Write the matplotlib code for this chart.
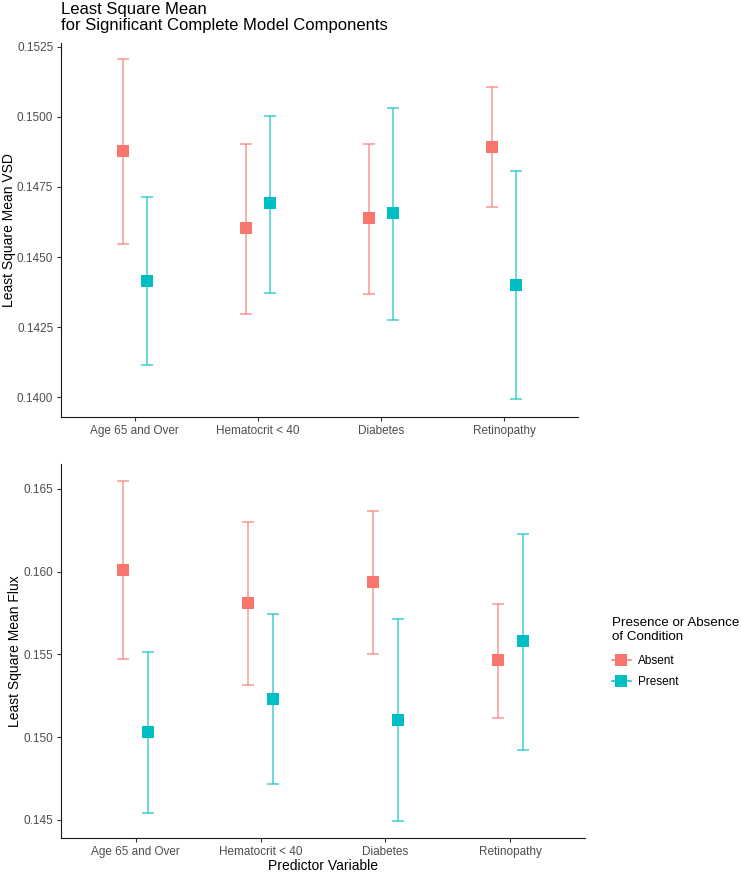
import matplotlib
matplotlib.use("Agg")
import matplotlib.pyplot as plt
from matplotlib.lines import Line2D
import numpy as np

plt.rcParams['font.family'] = ['Liberation Sans', 'DejaVu Sans']

# -------------------------------
# Data
# -------------------------------
categories = ["Age 65 and Over", "Hematocrit < 40", "Diabetes", "Retinopathy"]

# top panel: least square mean VSD
vsd_absent = [0.14880, 0.14602, 0.14639, 0.14893]
vsd_absent_lo = [0.14546, 0.14296, 0.14368, 0.14680]
vsd_absent_hi = [0.15207, 0.14905, 0.14905, 0.15106]
vsd_present = [0.14415, 0.14693, 0.14657, 0.14400]
vsd_present_lo = [0.14113, 0.14371, 0.14276, 0.13992]
vsd_present_hi = [0.14715, 0.15004, 0.15032, 0.14808]

# bottom panel: least square mean flux
flux_absent = [0.16010, 0.15811, 0.15935, 0.15468]
flux_absent_lo = [0.15474, 0.15315, 0.15505, 0.15116]
flux_absent_hi = [0.16546, 0.16300, 0.16369, 0.15807]
flux_present = [0.15029, 0.15231, 0.15106, 0.15579]
flux_present_lo = [0.14540, 0.14719, 0.14491, 0.14924]
flux_present_hi = [0.15515, 0.15746, 0.15716, 0.16225]

vsd_ticks = [0.1400, 0.1425, 0.1450, 0.1475, 0.1500, 0.1525]
flux_ticks = [0.145, 0.150, 0.155, 0.160, 0.165]

ABSENT_COL = "#F8766D"
PRESENT_COL = "#00BFC4"
TICK_COL = "#4D4D4D"
DODGE = 0.1


def draw_panel(ax, groups, yticks, fmt, ylabel, ylim, label_x):
    x = np.arange(len(categories))
    for offset, (mean, lo, hi, col) in zip((-DODGE, DODGE), groups):
        mean = np.array(mean)
        err = [mean - np.array(lo), np.array(hi) - mean]
        ax.errorbar(x + offset, mean, yerr=err, fmt='none', ecolor=col,
                    alpha=0.75, elinewidth=1.1, capsize=4.3, capthick=1.1,
                    zorder=2)
        ax.plot(x + offset, mean, linestyle='none', marker='s',
                markersize=8.8, color=col, markeredgewidth=0, zorder=3)

    ax.set_xlim(-0.6, len(categories) - 0.4)
    ax.set_ylim(*ylim)
    ax.set_xticks(x)
    ax.set_xticklabels(categories)
    ax.set_yticks(yticks)
    ax.set_yticklabels([fmt % t for t in yticks])
    ax.set_ylabel(ylabel, fontsize=10, color="black", va='center')
    ax.yaxis.set_label_coords(label_x, 0.5)
    for side in ("top", "right"):
        ax.spines[side].set_visible(False)
    for side in ("left", "bottom"):
        ax.spines[side].set_color("#1a1a1a")
        ax.spines[side].set_linewidth(0.8)
    ax.tick_params(axis='both', labelsize=8.5, labelcolor=TICK_COL,
                   color="#333333", length=3, width=0.8, pad=2.5)


fig = plt.figure(figsize=(7.41, 8.74), dpi=100)
W, H = 741.0, 874.0

ax_top = fig.add_axes([61 / W, 1 - 417 / H, 517 / W, 374 / H])
draw_panel(ax_top,
           [(vsd_absent, vsd_absent_lo, vsd_absent_hi, ABSENT_COL),
            (vsd_present, vsd_present_lo, vsd_present_hi, PRESENT_COL)],
           vsd_ticks, "%.4f", "Least Square Mean VSD", (0.13929, 0.15264),
           (9 - 61) / 517)

ax_bot = fig.add_axes([61 / W, 1 - 838 / H, 524 / W, 374 / H])
draw_panel(ax_bot,
           [(flux_absent, flux_absent_lo, flux_absent_hi, ABSENT_COL),
            (flux_present, flux_present_lo, flux_present_hi, PRESENT_COL)],
           flux_ticks, "%.3f", "Least Square Mean Flux", (0.14391, 0.16651),
           (15 - 61) / 524)
ax_bot.set_xlabel("Predictor Variable", fontsize=10, color="black", va='center')
ax_bot.xaxis.set_label_coords(0.5, -(866 - 838) / 374)

fig.text(61 / W, 1 - 2 / H,
         "Least Square Mean\nfor Significant Complete Model Components",
         ha='left', va='top', fontsize=12, linespacing=1.05, color="black")

handles = [
    Line2D([], [], color=ABSENT_COL, marker='s', markersize=8.8,
           markeredgewidth=0, linewidth=1.1, label="Absent"),
    Line2D([], [], color=PRESENT_COL, marker='s', markersize=8.8,
           markeredgewidth=0, linewidth=1.1, label="Present"),
]
leg = fig.legend(handles=handles, loc='upper left',
                 bbox_to_anchor=(606 / W, 1 - 611 / H),
                 frameon=False, fontsize=8.5, handlelength=1.6,
                 handletextpad=0.6, labelspacing=0.75, borderpad=0,
                 title="Presence or Absence\nof Condition", title_fontsize=9.6,
                 alignment='left')
leg.get_title().set_linespacing(1.2)
leg._legend_box.sep = 9

fig.savefig("out.png", dpi=100)
